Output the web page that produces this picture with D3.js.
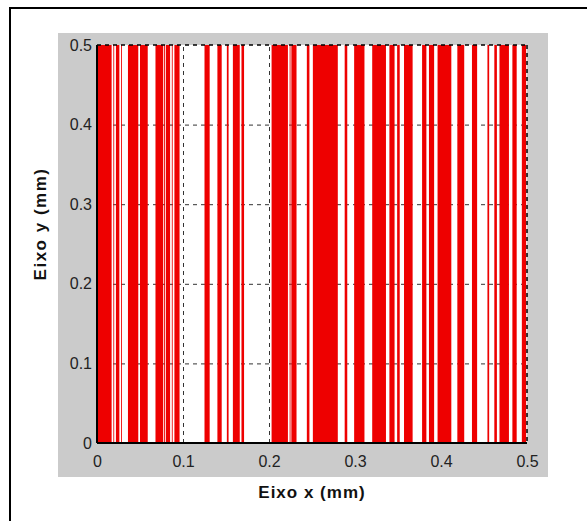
<!DOCTYPE html>
<html lang="pt">
<head>
  <meta charset="UTF-8" />
  <title>Eixo x / Eixo y</title>
  <script src="https://cdn.jsdelivr.net/npm/d3@7"></script>
  <style>
    body { margin: 0; background: #fff; }
    svg { display: block; font-family: "Liberation Sans", Arial, sans-serif; }
  </style>
</head>
<body>
  <div id="chart"></div>
  <script>
    // stripe start / end positions along x (mm)
    const stripeStart = [0.000, 0.019, 0.022, 0.028, 0.036, 0.050, 0.068, 0.078, 0.080, 0.087,
                         0.090, 0.125, 0.140, 0.151, 0.158, 0.168, 0.203, 0.224, 0.226, 0.244,
                         0.251, 0.288, 0.299, 0.320, 0.340, 0.349, 0.357, 0.378, 0.386, 0.396,
                         0.419, 0.436, 0.454, 0.462, 0.468, 0.483, 0.494];
    const stripeEnd   = [0.017, 0.020, 0.026, 0.029, 0.048, 0.059, 0.077, 0.079, 0.085, 0.088,
                         0.096, 0.131, 0.145, 0.153, 0.166, 0.171, 0.222, 0.225, 0.232, 0.247,
                         0.280, 0.291, 0.311, 0.336, 0.346, 0.352, 0.367, 0.383, 0.392, 0.412,
                         0.427, 0.442, 0.456, 0.465, 0.479, 0.488, 0.499];
    const xTicks = [0, 0.1, 0.2, 0.3, 0.4, 0.5];
    const yTicks = [0, 0.1, 0.2, 0.3, 0.4, 0.5];
    const xLabels = ["0", "0.1", "0.2", "0.3", "0.4", "0.5"];
    const yLabels = ["0", "0.1", "0.2", "0.3", "0.4", "0.5"];

    const W = 587, H = 521;
    const svg = d3.select("#chart").append("svg")
      .attr("width", W).attr("height", H);

    // outer frame (only left and top visible in the picture)
    svg.append("rect")
      .attr("x", 10).attr("y", 8)
      .attr("width", W + 20).attr("height", H + 20)
      .attr("fill", "#fff").attr("stroke", "#000").attr("stroke-width", 2);

    // gray figure background
    svg.append("rect")
      .attr("x", 58).attr("y", 33)
      .attr("width", 490).attr("height", 444)
      .attr("fill", "#cbcbcb");

    const x = d3.scaleLinear().domain([0, 0.5]).range([97, 527]);
    const y = d3.scaleLinear().domain([0, 0.5]).range([443, 45]);

    // plot area
    svg.append("rect")
      .attr("x", x(0)).attr("y", y(0.5))
      .attr("width", x(0.5) - x(0)).attr("height", y(0) - y(0.5))
      .attr("fill", "#fff");

    // grid
    const grid = svg.append("g").attr("stroke", "#333").attr("stroke-dasharray", "4,4").attr("stroke-width", 1);
    grid.selectAll("line.v").data(xTicks.slice(1, -1)).join("line")
      .attr("x1", d => x(d) + 0.5).attr("x2", d => x(d) + 0.5)
      .attr("y1", y(0)).attr("y2", y(0.5));
    grid.selectAll("line.h").data(yTicks.slice(1, -1)).join("line")
      .attr("x1", x(0)).attr("x2", x(0.5))
      .attr("y1", d => y(d) + 0.5).attr("y2", d => y(d) + 0.5);

    // red stripes
    const stripes = stripeStart.map((s, i) => ({ s, e: stripeEnd[i] }));
    svg.append("g").selectAll("rect").data(stripes).join("rect")
      .attr("x", d => x(d.s))
      .attr("width", d => x(d.e) - x(d.s))
      .attr("y", y(0.5))
      .attr("height", y(0) - y(0.5))
      .attr("fill", "#ee0000");

    // top and right edges: dashed
    const edge = svg.append("g").attr("stroke", "#000").attr("stroke-dasharray", "4,4").attr("stroke-width", 1.5);
    edge.append("line").attr("x1", x(0)).attr("x2", x(0.5)).attr("y1", y(0.5)).attr("y2", y(0.5));
    edge.append("line").attr("x1", x(0.5)).attr("x2", x(0.5)).attr("y1", y(0.5)).attr("y2", y(0));

    // axes
    const xAxis = svg.append("g")
      .attr("transform", `translate(0,${y(0)})`)
      .call(d3.axisBottom(x).tickValues(xTicks).tickFormat((d, i) => xLabels[i]).tickSize(0).tickPadding(13));
    const yAxis = svg.append("g")
      .attr("transform", `translate(${x(0)},0)`)
      .call(d3.axisLeft(y).tickValues(yTicks).tickFormat((d, i) => yLabels[i]).tickSize(0).tickPadding(5));
    [xAxis, yAxis].forEach(a => {
      a.select(".domain").attr("stroke", "#000").attr("stroke-width", 2);
      a.selectAll("text").attr("font-size", 16).attr("fill", "#222")
        .attr("font-family", "Liberation Sans, Arial, sans-serif");
    });
    // only the bottom and left lines are solid
    yAxis.select(".domain").attr("d", `M0,${y(0)}V${y(0.5)}`);
    xAxis.select(".domain").attr("d", `M${x(0)},0H${x(0.5)}`);

    // axis titles
    svg.append("text")
      .attr("x", 312).attr("y", 498)
      .attr("text-anchor", "middle")
      .attr("font-size", 17).attr("font-weight", "bold").attr("fill", "#111")
      .attr("letter-spacing", 1)
      .text("Eixo x (mm)");
    svg.append("text")
      .attr("transform", "translate(46,224) rotate(-90)")
      .attr("text-anchor", "middle")
      .attr("font-size", 17).attr("font-weight", "bold").attr("fill", "#111")
      .attr("letter-spacing", 1.5)
      .text("Eixo y (mm)");
  </script>
</body>
</html>
